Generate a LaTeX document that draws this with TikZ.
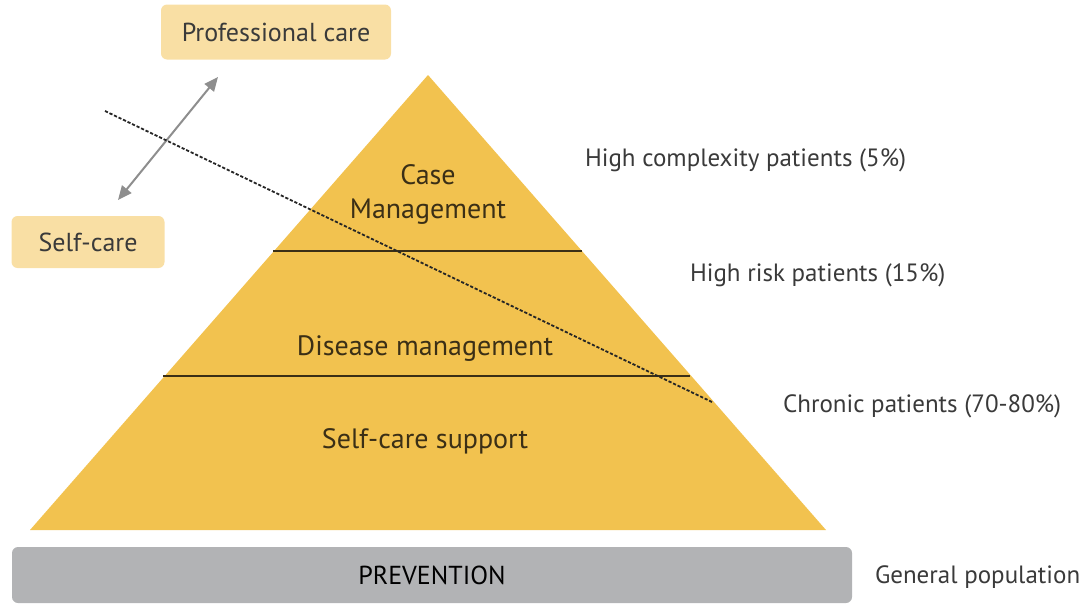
\documentclass[tikz,border=0pt]{standalone}
\usepackage{fontspec}
\setmainfont{PT Sans}
\usepackage{xcolor}
\usetikzlibrary{arrows.meta}

\definecolor{pyramidgold}{HTML}{F2C24F}
\definecolor{carebox}{HTML}{F9DFA4}
\definecolor{prevgray}{HTML}{B2B3B5}
\definecolor{labelgray}{HTML}{3A3A3A}
\definecolor{tierbrown}{HTML}{3B2F16}
\definecolor{arrowgray}{HTML}{8E8E8E}

\begin{document}
\begin{tikzpicture}[x=0.5pt,y=-0.5pt,
    every node/.style={font=\fontsize{12.5}{15}\selectfont, text=labelgray},
    carebox/.style={fill=carebox, rounded corners=3pt, inner sep=0pt, font=\fontsize{13}{15}\selectfont},
    tier/.style={text=tierbrown, align=center, font=\fontsize{14}{17}\selectfont},
    group/.style={anchor=west},
    divider/.style={tierbrown, line width=1pt}]
            \useasboundingbox (0,0) rectangle (1089,605);
            % pyramid
            \coordinate (apex) at (428,75);
            \coordinate (baseL) at (30,530);
            \coordinate (baseR) at (826,530);
            \fill [pyramidgold] (apex) -- (baseR) -- (baseL) -- cycle;
            \coordinate (cmL) at (273,251);
            \coordinate (cmR) at (582,251);
            \coordinate (dmL) at (163,376);
            \coordinate (dmR) at (690,376);
            \draw [divider] (cmL) -- (cmR);
            \draw [divider] (dmL) -- (dmR);
            \node [tier] (case) at (428,194) {Case\\Management};
            \node [tier] (disease) at (425,349) {Disease management};
            \node [tier] (support) at (425,441) {Self-care support};
            % prevention
            \node [carebox, fill=prevgray, minimum width=420pt, minimum height=28pt, text=black] (prevention) at (432,575) {PREVENTION};
            % care boxes
            \node [carebox, minimum width=115pt, minimum height=27.5pt] (professional) at (276,32) {Professional care};
            \node [carebox, minimum width=76.5pt, minimum height=26pt] (selfcare) at (88,242) {Self-care};
            \coordinate (profend) at (218,77);
            \coordinate (selfend) at (118,200);
            \draw [arrowgray, line width=1pt, {Triangle[length=7pt,width=6pt]}-{Triangle[length=7pt,width=6pt]}] (selfend) -- (profend);
            % dashed divide
            \coordinate (dashA) at (105,111);
            \coordinate (dashB) at (712,402);
            \draw [black!85, dash pattern=on 1.6pt off 0.9pt, line width=0.9pt] (dashA) -- (dashB);
            % groups
            \node [group] (complex) at (578,160) {High complexity patients (5\%)};
            \node [group] (risk) at (683,275) {High risk patients (15\%)};
            \node [group] (chronic) at (776,406) {Chronic patients (70-80\%)};
            \node [group] (general) at (868,577) {General population};
        \end{tikzpicture}
\end{document}
